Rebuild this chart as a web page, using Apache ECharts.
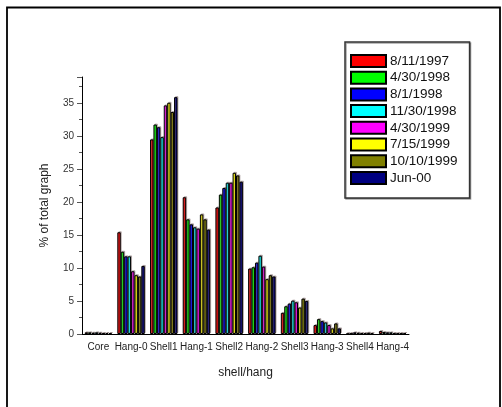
<!DOCTYPE html>
<html>
<head>
<meta charset="utf-8">
<script src="https://cdn.jsdelivr.net/npm/echarts@6/dist/echarts.min.js"></script>
<style>
html,body{margin:0;padding:0;background:#fff;}
#c{width:502px;height:407px;}
</style>
</head>
<body>
<div id="c"></div>
<script>
var categories = ["Core","Hang-0","Shell1","Hang-1","Shell2","Hang-2","Shell3","Hang-3","Shell4","Hang-4"];
var seriesNames = ["8/11/1997","4/30/1998","8/1/1998","11/30/1998","4/30/1999","7/15/1999","10/10/1999","Jun-00"];
var seriesColors = ["#FF0000","#00FF00","#0000FF","#00FFFF","#FF00FF","#FFFF00","#808000","#000080"];
var s1 = [0.25, 15.4, 29.45, 20.7, 19.15, 9.9, 3.2, 1.35, 0.05, 0.45];
var s2 = [0.25, 12.45, 31.7, 17.35, 21.1, 10.1, 4.2, 2.25, 0.1, 0.3];
var s3 = [0.2, 11.75, 31.3, 16.6, 22.1, 10.8, 4.6, 1.95, 0.25, 0.25];
var s4 = [0.25, 11.75, 29.8, 16.15, 22.9, 11.85, 5.05, 1.75, 0.2, 0.25];
var s5 = [0.2, 9.5, 34.6, 15.95, 22.9, 10.2, 4.8, 1.35, 0.15, 0.15];
var s6 = [0.15, 8.9, 35.0, 18.1, 24.4, 8.3, 4.0, 0.85, 0.1, 0.1];
var s7 = [0.15, 8.7, 33.6, 17.35, 24.0, 8.9, 5.35, 1.6, 0.2, 0.1];
var s8 = [0.15, 10.3, 35.85, 15.8, 23.05, 8.7, 5.0, 0.85, 0.1, 0.15];
var allValues = [s1,s2,s3,s4,s5,s6,s7,s8];
var yTicks = [0,5,10,15,20,25,30,35];

var font = "Liberation Sans, Arial, Helvetica, sans-serif";
var chart = echarts.init(document.getElementById('c'), null, {renderer:'canvas'});
var series = allValues.map(function(v,i){
  return {
    name: seriesNames[i],
    type: 'bar',
    data: v,
    barGap: '0%',
    barCategoryGap: '16%',
    itemStyle: {color: seriesColors[i], borderColor: '#000', borderWidth: 1,
      shadowColor: 'rgba(120,100,100,0.45)', shadowOffsetX: 1, shadowOffsetY: -1},
    emphasis: {disabled: true}
  };
});
chart.setOption({
  animation: false,
  backgroundColor: '#fff',
  textStyle: {fontFamily: font},
  grid: {left: 82, right: 93, top: 77, bottom: 73, containLabel: false},
  legend: {
    orient: 'vertical', left: 345, top: 42,
    padding: [12, 12, 13, 5],
    itemWidth: 35, itemHeight: 12, itemGap: 2.7,
    borderColor: '#333', borderWidth: 1.5,
    shadowColor: 'rgba(0,0,0,0.35)', shadowOffsetX: 1, shadowOffsetY: 1, shadowBlur: 0,
    backgroundColor: '#fff',
    icon: 'rect',
    textStyle: {fontSize: 13.5, color: '#111', fontFamily: font, padding: [0,0,0,-1]},
    data: seriesNames
  },
  xAxis: {
    type: 'category', data: categories,
    name: 'shell/hang', nameLocation: 'middle', nameGap: 33,
    nameTextStyle: {fontSize: 12, color: '#222'},
    axisLine: {lineStyle: {color: '#000', width: 1}},
    axisTick: {alignWithLabel: true, length: 4, lineStyle: {color: '#000'}},
    axisLabel: {fontSize: 10, color: '#222', margin: 8, interval: 0}
  },
  yAxis: {
    type: 'value', min: 0, max: 38.9, interval: 5,
    name: '% of total graph', nameLocation: 'middle', nameGap: 31,
    nameTextStyle: {fontSize: 12, color: '#222'},
    axisLine: {show: true, lineStyle: {color: '#000', width: 1}},
    axisTick: {show: true, length: 5, lineStyle: {color: '#555'}},
    minorTick: {show: true, splitNumber: 2, length: 3, lineStyle: {color: '#555'}},
    splitLine: {show: false},
    axisLabel: {fontSize: 10, color: '#333', margin: 8, showMaxLabel: false,
      formatter: function(v){ return yTicks.indexOf(v) >= 0 ? String(v) : ''; }}
  },
  graphic: [{
    type: 'rect', shape: {x: 7, y: 7.5, width: 493, height: 410},
    style: {fill: 'none', stroke: '#000', lineWidth: 1.8}, silent: true
  }],
  series: series
});
</script>
</body>
</html>
